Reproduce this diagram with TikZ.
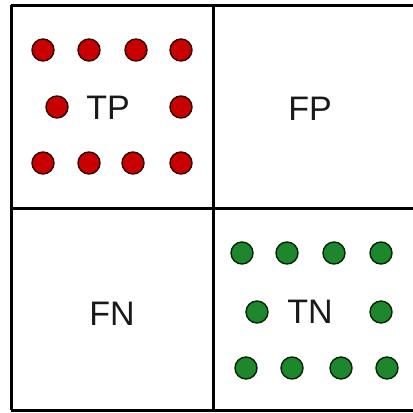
\documentclass[tikz,border=0pt]{standalone}
\usepackage{fontspec}
\setmainfont{Liberation Sans}
\definecolor{dotred}{RGB}{200,0,0}
\definecolor{dotgreen}{RGB}{30,135,45}
\begin{document}
\begin{tikzpicture}[x=1pt,y=-1pt,
  gridline/.style={line width=3pt,black},
  label/.style={font=\fontsize{34}{34}\selectfont,text=black!90,inner sep=0pt},
  rdot/.style={circle,minimum size=22pt,inner sep=0pt,fill=dotred,draw=black!80!red,line width=1.4pt},
  gdot/.style={circle,minimum size=22pt,inner sep=0pt,fill=dotgreen,draw=black!85!green,line width=1.4pt}]
\useasboundingbox[fill=white] (0,0) rectangle (413,413);
% grid
\draw[gridline] (11,5) -- (420,5);
\draw[gridline] (11,208) -- (420,208);
\draw[gridline] (11,410) -- (420,410);
\draw[gridline] (11,5) -- (11,410);
\draw[gridline] (213,5) -- (213,410);
% labels
\node[label] (tp) at (108,108) {TP};
\node[label] (fp) at (310,109) {FP};
\node[label] (fn) at (112,314) {FN};
\node[label] (tn) at (310,312) {TN};
% red dots
\foreach \x [count=\i] in {43,89,136,181} \node[rdot] (r1\i) at (\x,50) {};
\node[rdot] (r21) at (57,107) {};
\node[rdot] (r22) at (181,107) {};
\foreach \x [count=\i] in {43,89,133,181} \node[rdot] (r3\i) at (\x,163) {};
% green dots
\foreach \x [count=\i] in {242,287,334,381} \node[gdot] (g1\i) at (\x,253) {};
\node[gdot] (g21) at (257,312) {};
\node[gdot] (g22) at (381,312) {};
\foreach \x [count=\i] in {246,292,341,387} \node[gdot] (g3\i) at (\x,368) {};
\end{tikzpicture}
\end{document}
